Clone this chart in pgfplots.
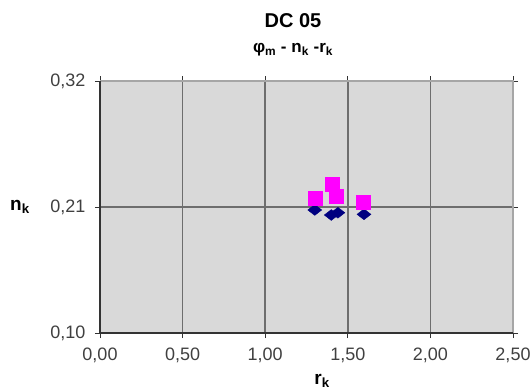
\documentclass[border=0pt]{standalone}
\usepackage{fontspec}
\setmainfont{Liberation Sans}
\usepackage{pgfplots}
\pgfplotsset{compat=1.18}
\definecolor{bgc}{HTML}{D9D9D9}
\definecolor{gridc}{HTML}{6E6E6E}
\definecolor{framec}{HTML}{A6A6A6}
\definecolor{pinkc}{HTML}{FF00FF}
\definecolor{navyc}{HTML}{000080}
\begin{document}
\begin{tikzpicture}[x=1pt,y=1pt]
\useasboundingbox (-100,-56) rectangle (432,333);
\begin{axis}[
  at={(0,0)}, anchor=south west,
  scale only axis, width=413pt, height=252pt,
  xmin=0, xmax=2.5, ymin=0.10, ymax=0.32,
  xtick={0,0.5,1,1.5,2,2.5},
  ytick={0.10,0.21,0.32},
  grid=major,
  major grid style={draw=gridc, line width=1.6pt},
  axis line style={draw=none},
  axis background/.style={fill=bgc},
  tick align=outside,
  major tick length=5pt,
  tick style={draw=black!80, line width=1pt},
  /pgf/number format/.cd, fixed, fixed zerofill, precision=2, use comma, assume math mode=true,
  /pgfplots/.cd,
  ticklabel style={font=\fontsize{18}{21}\selectfont, text=black!75},
  xticklabel style={yshift=-6pt},
  yticklabel style={xshift=-6pt},
  clip=false,
]
\draw[framec, line width=1.6pt] (rel axis cs:0,1) -- (rel axis cs:1,1) -- (rel axis cs:1,0);
\draw[black!80, line width=1.4pt] (rel axis cs:0,1) -- (rel axis cs:0,0) -- (rel axis cs:1,0);
\addplot[only marks, mark=diamond*, mark size=6pt, mark options={xscale=1.55, yscale=0.9, fill=navyc, draw=navyc}, color=navyc]
  coordinates {(1.30,0.2074) (1.40,0.2030) (1.44,0.2050) (1.598,0.2036)};
\addplot[only marks, mark=square*, mark size=7pt, mark options={fill=pinkc, draw=pinkc}, color=pinkc]
  coordinates {(1.30,0.2181) (1.408,0.2298) (1.430,0.2190) (1.594,0.2138)};
\end{axis}
\node[anchor=base, font=\bfseries\fontsize{20}{24}\selectfont] at (193,305) {DC 05};
\node[anchor=base, font=\bfseries\fontsize{17}{20}\selectfont] at (193,280) {φ\textsubscript{m} - n\textsubscript{k} -r\textsubscript{k}};
\node[anchor=center, font=\bfseries\fontsize{19}{22}\selectfont] at (-80,126) {n\textsubscript{k}};
\node[anchor=base, font=\bfseries\fontsize{19}{22}\selectfont] at (222,-51) {r\textsubscript{k}};
\end{tikzpicture}
\end{document}
